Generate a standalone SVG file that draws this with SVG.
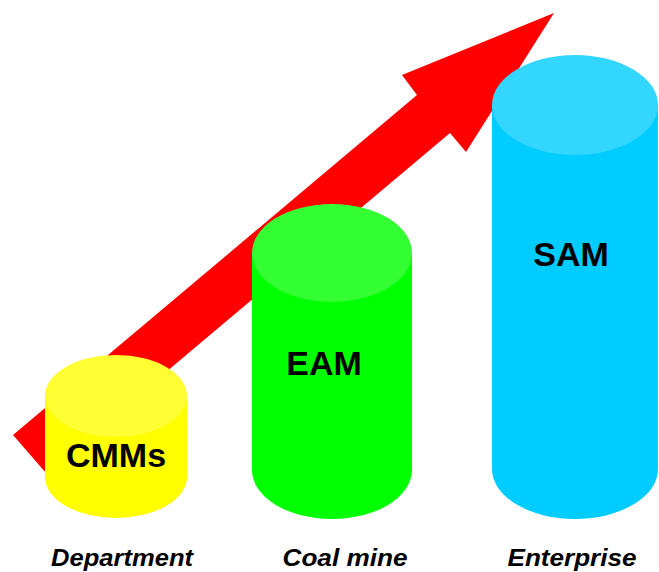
<svg xmlns="http://www.w3.org/2000/svg" width="659" height="572" viewBox="0 0 659 572">
<style>
.lbl{font-family:"Liberation Sans",Arial,sans-serif;font-weight:bold;font-size:34px;fill:#000;text-anchor:middle}
.cap{font-family:"Liberation Sans",Arial,sans-serif;font-weight:bold;font-style:italic;font-size:24px;fill:#000;text-anchor:middle}
</style>
<rect width="659" height="572" fill="#fff"/>
<g id="connectors">
<polygon points="13,435 417,95 402,75 554,13 466,152 450,133 46,473" fill="#FF0000"/>
</g>
<g id="cmms">
<path d="M45,396 L45,477 A71,41 0 0 0 187,477 L187,396 Z" fill="#FFFF00"/>
<ellipse cx="116" cy="396" rx="71" ry="41" fill="#FFFF33"/>
<text class="lbl" x="116" y="467">CMMs</text>
</g>
<g id="eam">
<path d="M252,253 L252,470 A80,49 0 0 0 412,470 L412,253 Z" fill="#00FF00"/>
<ellipse cx="332" cy="253" rx="80" ry="49" fill="#33FF33"/>
<text class="lbl" x="324" y="375">EAM</text>
</g>
<g id="sam">
<path d="M492,105 L492,469 A83,50 0 0 0 658,469 L658,105 Z" fill="#00CCFF"/>
<ellipse cx="575" cy="105" rx="83" ry="50" fill="#33D6FF"/>
<text class="lbl" x="571" y="266">SAM</text>
</g>
<g id="labels">
<text class="cap" x="122" y="566" textLength="142" lengthAdjust="spacingAndGlyphs">Department</text>
<text class="cap" x="345" y="566" textLength="125" lengthAdjust="spacingAndGlyphs">Coal mine</text>
<text class="cap" x="572" y="566" textLength="129" lengthAdjust="spacingAndGlyphs">Enterprise</text>
</g>
</svg>
